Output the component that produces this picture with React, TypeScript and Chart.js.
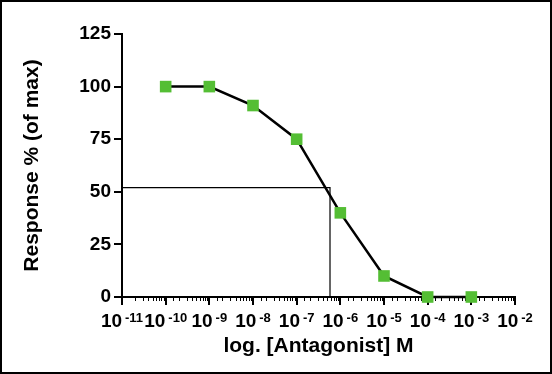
import React, { useEffect, useRef } from "react";
import { Chart, registerables } from "chart.js";

Chart.register(...registerables);

const concentrations = [1e-10, 1e-9, 1e-8, 1e-7, 1e-6, 1e-5, 1e-4, 1e-3];
const responses = [100, 100, 91, 75, 40, 10, 0, 0];
const ic50 = 5.8e-7;
const halfResponse = 52;
const xMin = 1e-11;
const xMax = 1e-2;
const yTicks = [0, 25, 50, 75, 100, 125];
const xTitle = "log. [Antagonist] M";
const yTitle = "Response % (of max)";

function decadeExponent(v: number): number | null {
  const e = Math.log10(v);
  const r = Math.round(e);
  return Math.abs(e - r) < 1e-6 ? r : null;
}

const FONT = "'Liberation Sans', Arial, Helvetica, sans-serif";
const GREEN = "rgb(84,190,52)";

const xTickPlugin = {
  id: "xTickPlugin",
  beforeDatasetsDraw(chart: any) {
    const scale = chart.scales.x;
    const ctx = chart.ctx;
    const y0 = chart.chartArea.bottom;
    ctx.save();
    ctx.strokeStyle = "#000";
    scale.ticks.forEach((t: any) => {
      const major = decadeExponent(t.value) !== null;
      const px = Math.round(scale.getPixelForValue(t.value));
      const x = major ? px : px + 0.5;
      ctx.lineWidth = major ? 2 : 1;
      ctx.beginPath();
      ctx.moveTo(x, y0);
      ctx.lineTo(x, y0 + (major ? 8 : 4));
      ctx.stroke();
    });
    ctx.restore();
  },
  afterDraw(chart: any) {
    const scale = chart.scales.x;
    const ctx = chart.ctx;
    const capTop = chart.chartArea.bottom + 16;
    const bigSize = 19;
    const smallSize = 13;
    const gap = 3;
    ctx.save();
    ctx.fillStyle = "#000";
    ctx.textBaseline = "alphabetic";
    ctx.textAlign = "left";
    scale.ticks.forEach((t: any) => {
      const e = decadeExponent(t.value);
      if (e === null) return;
      const base = "10";
      const exp = String(e);
      ctx.font = `bold ${bigSize}px ${FONT}`;
      const wb = ctx.measureText(base).width;
      ctx.font = `bold ${smallSize}px ${FONT}`;
      const we = ctx.measureText(exp).width;
      const total = wb + gap + we;
      const cx = scale.getPixelForValue(t.value);
      const left = cx - total / 2;
      ctx.font = `bold ${bigSize}px ${FONT}`;
      ctx.fillText(base, left, capTop + 0.716 * bigSize);
      ctx.font = `bold ${smallSize}px ${FONT}`;
      ctx.fillText(exp, left + wb + gap, capTop + 0.716 * smallSize);
    });
    ctx.restore();
  },
};

export default function App() {
  const ref = useRef<HTMLCanvasElement | null>(null);
  useEffect(() => {
    if (!ref.current) return;
    const chart = new Chart(ref.current, {
      type: "line",
      data: {
        datasets: [
          {
            data: concentrations.map((c, i) => ({ x: c, y: responses[i] })),
            borderColor: "#000",
            borderWidth: 2.5,
            pointStyle: "rect",
            pointRadius: 8.2,
            pointBackgroundColor: GREEN,
            pointBorderColor: GREEN,
            pointBorderWidth: 0,
            tension: 0,
            clip: false as any,
            order: 1,
          },
          {
            data: [
              { x: xMin, y: halfResponse },
              { x: ic50, y: halfResponse },
              { x: ic50, y: 0 },
            ],
            borderColor: "#000",
            borderWidth: 1.2,
            pointRadius: 0,
            tension: 0,
            order: 2,
          },
        ],
      },
      options: {
        animation: false,
        responsive: false,
        layout: { padding: { left: 0, top: 32, right: 35, bottom: 0 } },
        plugins: { legend: { display: false }, tooltip: { enabled: false } },
        scales: {
          x: {
            type: "logarithmic",
            min: xMin,
            max: xMax,
            border: { display: true, color: "#000", width: 2 },
            grid: {
              drawOnChartArea: false,
              drawTicks: true,
              tickLength: 8,
              color: "rgba(0,0,0,0)",
            },
            ticks: {
              display: false,
              autoSkip: false,
              maxRotation: 0,
              minRotation: 0,
            },
            title: {
              display: true,
              text: xTitle,
              color: "#000",
              font: { family: FONT, size: 21, weight: "bold" },
              padding: { top: 0, bottom: 13 },
            },
            afterFit: (s: any) => {
              s.height = 75;
              s.paddingLeft = 0;
              s.paddingRight = 0;
            },
          },
          y: {
            min: 0,
            max: 125,
            border: { display: true, color: "#000", width: 2 },
            grid: {
              drawOnChartArea: false,
              drawTicks: true,
              tickLength: 8,
              color: "#000",
              lineWidth: 2,
            },
            afterBuildTicks: (s: any) => {
              s.ticks = yTicks.map((v) => ({ value: v }));
            },
            ticks: {
              padding: 3,
              color: "#000",
              font: { family: FONT, size: 19, weight: "bold" },
            },
            title: {
              display: true,
              text: yTitle,
              color: "#000",
              font: { family: FONT, size: 21, weight: "bold" },
              padding: { top: 18, bottom: 0 },
            },
            afterFit: (s: any) => {
              s.width = 120;
              s.paddingTop = 0;
              s.paddingBottom = 0;
            },
          },
        },
      },
      plugins: [xTickPlugin],
    } as any);
    return () => chart.destroy();
  }, []);
  return (
    <div
      style={{
        position: "fixed",
        left: 0,
        top: 0,
        width: 552,
        height: 374,
        boxSizing: "border-box",
        border: "2px solid #000",
        background: "#fff",
      }}
    >
      <canvas ref={ref} width={548} height={370} style={{ display: "block" }} />
    </div>
  );
}
